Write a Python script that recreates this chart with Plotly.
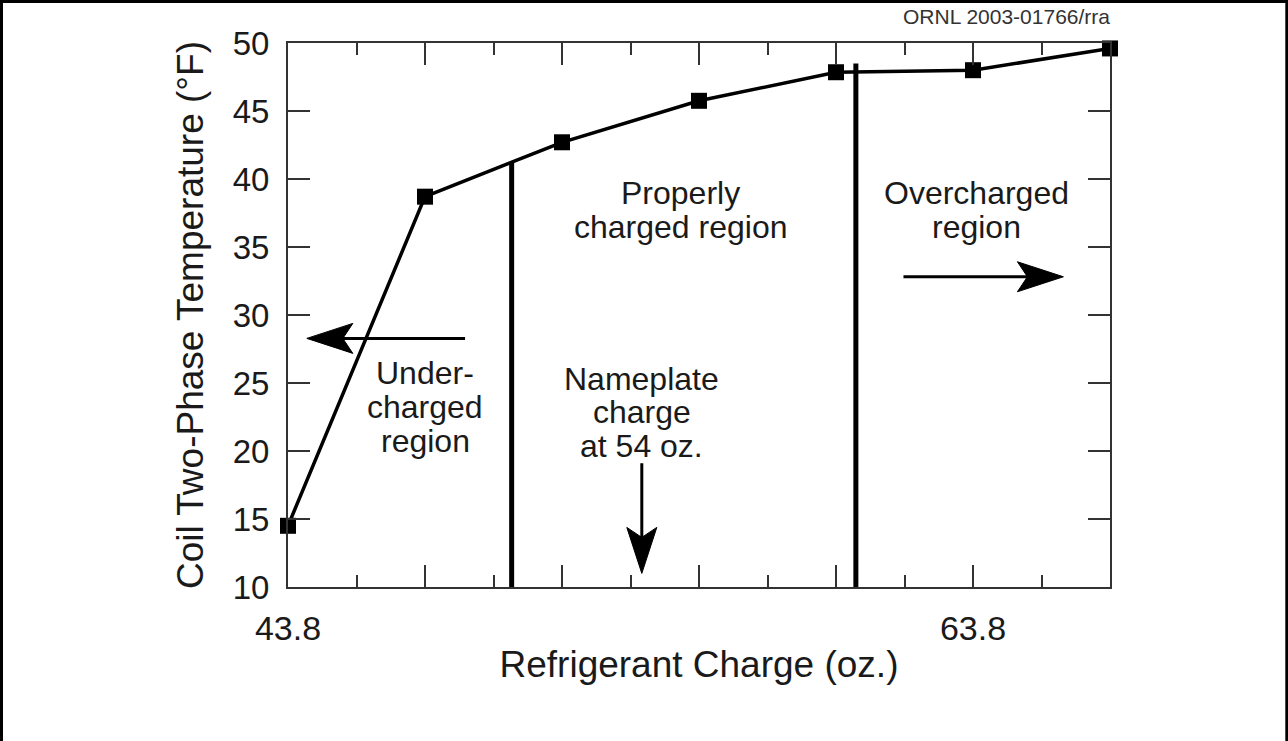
import plotly.graph_objects as go

# ---- data ----
charge_oz = [43.8, 47.8, 51.8, 55.8, 59.8, 63.8, 67.8]
coil_temp_f = [14.5, 38.7, 42.7, 45.75, 47.85, 48.0, 49.6]

divider_x = [50.33, 60.38]
divider_top = [41.2, 48.5]

x_label_vals = [43.8, 63.8]
x_major_vals = [43.8, 47.8, 51.8, 55.8, 59.8, 63.8, 67.8]
y_tick_vals = [10, 15, 20, 25, 30, 35, 40, 45, 50]

nameplate_oz = 54.13

FONT = "Liberation Sans, Arial, Helvetica, sans-serif"
INK = "#1a1a1a"
AX = "#333333"

X_RANGE = [43.8, 67.8]
Y_RANGE = [10, 50]
L, R, T, B = 288, 178, 43, 154
PW, PH = 1288 - L - R, 741 - T - B
PX_PER_X = PW / (X_RANGE[1] - X_RANGE[0])
PX_PER_Y = PH / (Y_RANGE[1] - Y_RANGE[0])

fig = go.Figure()

fig.add_trace(go.Scatter(
    x=charge_oz, y=coil_temp_f, mode="lines+markers",
    line=dict(color="black", width=3.5),
    marker=dict(symbol="square", size=16, color="black"),
    cliponaxis=False, showlegend=False, hoverinfo="skip"))

for dx, dt in zip(divider_x, divider_top):
    fig.add_trace(go.Scatter(
        x=[dx, dx], y=[10, dt], mode="lines",
        line=dict(color="black", width=5),
        showlegend=False, hoverinfo="skip", cliponaxis=False))

ticktext = [str(v) if v in x_label_vals else "" for v in x_major_vals]

fig.update_xaxes(
    range=X_RANGE, tickmode="array", tickvals=x_major_vals, ticktext=ticktext,
    ticks="inside", ticklen=22, tickwidth=2, tickcolor=AX,
    minor=dict(tickmode="linear", tick0=43.8, dtick=2, ticks="inside", ticklen=12,
               tickwidth=2, tickcolor=AX),
    showline=True, linewidth=2, linecolor=AX, mirror="ticks",
    showgrid=False, zeroline=False,
    tickfont=dict(family=FONT, size=34, color=INK), ticklabelstandoff=10,
    title=dict(text="Refrigerant Charge (oz.)", font=dict(family=FONT, size=37, color=INK),
               standoff=5))

fig.update_yaxes(
    range=Y_RANGE, tickmode="array", tickvals=y_tick_vals,
    ticks="inside", ticklen=22, tickwidth=2, tickcolor=AX,
    showline=True, linewidth=2, linecolor=AX, mirror="ticks",
    showgrid=False, zeroline=False,
    tickfont=dict(family=FONT, size=33, color=INK), ticklabelstandoff=10,
    title=dict(text="Coil Two-Phase Temperature (°F)", font=dict(family=FONT, size=37, color=INK),
               standoff=18))

def label_lines(lines, x, y_center, dy=2.47):
    n = len(lines)
    for i, t in enumerate(lines):
        yy = y_center + (n - 1) / 2 * dy - i * dy
        fig.add_annotation(x=x, y=yy, text=t, showarrow=False, xanchor="center", yanchor="middle",
                           font=dict(family=FONT, size=32, color=INK))

label_lines(["Properly", "charged region"], 55.25, 37.73)
label_lines(["Overcharged", "region"], 63.91, 37.73)
label_lines(["Under-", "charged", "region"], 47.8, 23.24)
label_lines(["Nameplate", "charge", "at 54 oz."], 54.13, 22.85)

HEAD_LEN, HEAD_HALF, NOTCH = 46, 15, 36  # pixels

def arrow(x_tail, y_tail, x_tip, y_tip):
    # direction in pixel space
    dxp = (x_tip - x_tail) * PX_PER_X
    dyp = (y_tip - y_tail) * PX_PER_Y
    n = (dxp ** 2 + dyp ** 2) ** 0.5
    ux, uy = dxp / n, dyp / n
    vx, vy = -uy, ux
    def pt(a, b):
        return (x_tip + (a * ux + b * vx) / PX_PER_X, y_tip + (a * uy + b * vy) / PX_PER_Y)
    nx, ny = pt(-NOTCH + 2, 0)
    fig.add_shape(type="line", xref="x", yref="y", x0=x_tail, y0=y_tail, x1=nx, y1=ny,
                  line=dict(color="black", width=3))
    p0 = pt(0, 0); p1 = pt(-HEAD_LEN, HEAD_HALF); p2 = pt(-NOTCH, 0); p3 = pt(-HEAD_LEN, -HEAD_HALF)
    path = "M {} {} L {} {} L {} {} L {} {} Z".format(p0[0], p0[1], p1[0], p1[1], p2[0], p2[1], p3[0], p3[1])
    fig.add_shape(type="path", xref="x", yref="y", path=path,
                  fillcolor="black", line=dict(color="black", width=1))

arrow(48.97, 28.28, 44.35, 28.28)
arrow(61.77, 32.81, 66.44, 32.81)
arrow(nameplate_oz, 19.1, nameplate_oz, 11.0)

fig.add_annotation(x=1.003, y=1.049, xref="paper", yref="paper", text="ORNL 2003-01766/rra",
                   showarrow=False, xanchor="right", yanchor="middle",
                   font=dict(family=FONT, size=21, color="#333333"))

# page frame (left, top, right)
def px_x(p): return (p - L) / PW
def px_y(p): return (741 - B - p) / PH
frame = dict(type="path", xref="paper", yref="paper",
             path=f"M {px_x(1.5)} {px_y(745)} L {px_x(1.5)} {px_y(1.5)} L {px_x(1286.8)} {px_y(1.5)} L {px_x(1286.8)} {px_y(745)}",
             line=dict(color="black", width=3))
fig.add_shape(**frame)

fig.update_layout(
    width=1288, height=741, autosize=False,
    margin=dict(l=L, r=R, t=T, b=B),
    paper_bgcolor="white", plot_bgcolor="white",
    font=dict(family=FONT, color=INK))

fig.write_html("out.html", config={"displayModeBar": False},
               post_script="document.body.style.margin='0';document.body.style.overflow='hidden';")
